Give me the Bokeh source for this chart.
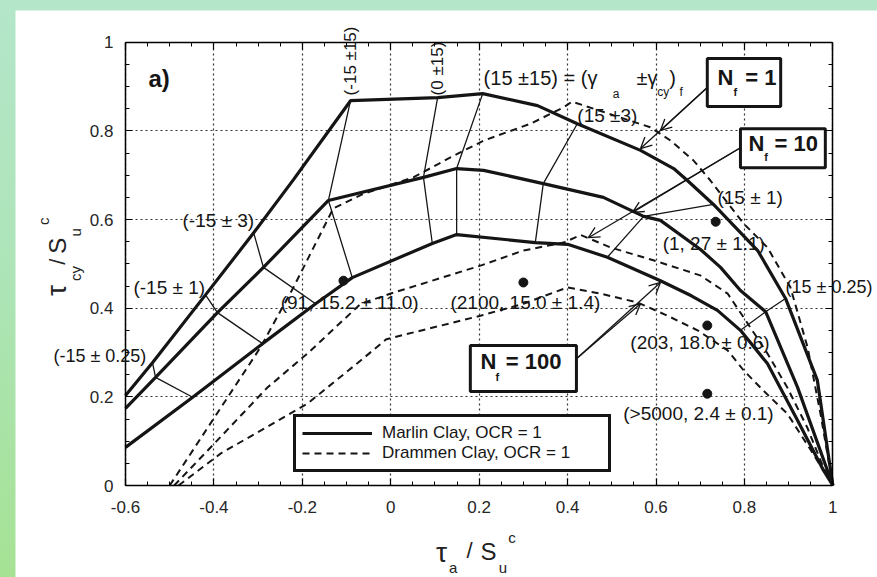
import math
from bokeh.plotting import figure
from bokeh.models import (LinearAxis, FixedTicker, Label, Arrow, OpenHead,
                          Legend, LegendItem, Range1d)
from bokeh.embed import file_html
from bokeh.resources import INLINE

# ---------------- data ----------------
xticks = [-0.6, -0.4, -0.2, 0.0, 0.2, 0.4, 0.6, 0.8, 1.0]
xtick_labels = ["-0.6", "-0.4", "-0.2", "0", "0.2", "0.4", "0.6", "0.8", "1"]
yticks = [0.0, 0.2, 0.4, 0.6, 0.8, 1.0]
ytick_labels = ["0", "0.2", "0.4", "0.6", "0.8", "1"]
xminor = [round(-0.6 + 0.05 * i, 2) for i in range(33)]
yminor = [round(0.05 * i, 2) for i in range(21)]

# Marlin Clay (solid, thick)
marlin_nf1_x = [-0.6, -0.539, -0.419, -0.31, -0.22, -0.091, 0.106, 0.208, 0.332, 0.422,
                0.565, 0.64, 0.671, 0.73, 0.83, 0.893, 0.965, 1.0]
marlin_nf1_y = [0.203, 0.277, 0.43, 0.57, 0.69, 0.868, 0.875, 0.884, 0.857, 0.816,
                0.756, 0.715, 0.688, 0.634, 0.53, 0.422, 0.237, 0.0]
marlin_nf10_x = [-0.6, -0.532, -0.392, -0.288, -0.141, 0.074, 0.149, 0.21, 0.345, 0.481,
                 0.572, 0.61, 0.70, 0.746, 0.791, 0.848, 0.92, 1.0]
marlin_nf10_y = [0.174, 0.244, 0.39, 0.492, 0.643, 0.695, 0.715, 0.711, 0.681, 0.65,
                 0.607, 0.598, 0.533, 0.492, 0.44, 0.392, 0.222, 0.0]
marlin_nf100_x = [-0.6, -0.448, -0.29, -0.17, -0.087, 0.094, 0.149, 0.327, 0.4, 0.49,
                  0.61, 0.68, 0.739, 0.791, 0.852, 0.92, 0.979, 1.0]
marlin_nf100_y = [0.086, 0.199, 0.32, 0.41, 0.469, 0.546, 0.566, 0.548, 0.544, 0.515,
                  0.462, 0.428, 0.395, 0.35, 0.275, 0.147, 0.034, 0.0]

# constant (gamma_a +- gamma_cy)_f lines, points on Nf=1, 10, 100
gamma_x = [[-0.539, -0.532, -0.448], [-0.419, -0.392, -0.29], [-0.31, -0.288, -0.17],
           [-0.091, -0.141, -0.087], [0.106, 0.074, 0.094], [0.208, 0.149, 0.149],
           [0.422, 0.345, 0.327], [0.73, 0.572, 0.49], [0.893, 0.848, 0.791]]
gamma_y = [[0.277, 0.244, 0.199], [0.43, 0.39, 0.32], [0.57, 0.492, 0.41],
           [0.868, 0.643, 0.469], [0.875, 0.695, 0.546], [0.884, 0.715, 0.566],
           [0.816, 0.681, 0.548], [0.634, 0.607, 0.515], [0.422, 0.392, 0.35]]

# Drammen Clay (dashed)
drammen_nf1_x = [-0.5, -0.295, -0.22, -0.13, -0.062, 0.051, 0.135, 0.21, 0.316, 0.391, 0.41,
                 0.587, 0.633, 0.685, 0.723, 0.798, 0.852, 0.904, 0.943, 0.972, 1.0]
drammen_nf1_y = [0.0, 0.311, 0.447, 0.625, 0.658, 0.695, 0.74, 0.778, 0.816, 0.853, 0.866,
                 0.808, 0.778, 0.733, 0.688, 0.591, 0.537, 0.447, 0.311, 0.162, 0.0]
drammen_nf10_x = [-0.49, -0.414, -0.279, -0.188, -0.068, 0.0, 0.203, 0.3, 0.391, 0.43,
                  0.497, 0.594, 0.70, 0.762, 0.807, 0.852, 0.897, 0.942, 0.979, 1.0]
drammen_nf10_y = [0.0, 0.079, 0.221, 0.298, 0.41, 0.433, 0.496, 0.53, 0.548, 0.565,
                  0.537, 0.508, 0.474, 0.433, 0.366, 0.298, 0.221, 0.131, 0.04, 0.0]
drammen_nf100_x = [-0.48, -0.385, -0.188, -0.068, -0.01, 0.203, 0.3, 0.4, 0.474, 0.558,
                   0.626, 0.694, 0.762, 0.798, 0.843, 0.897, 0.95, 1.0]
drammen_nf100_y = [0.0, 0.072, 0.185, 0.282, 0.33, 0.383, 0.41, 0.447, 0.433, 0.413,
                   0.383, 0.35, 0.305, 0.26, 0.214, 0.162, 0.08, 0.0]

# test points
dot_x = [-0.107, 0.30, 0.735, 0.716, 0.716]
dot_y = [0.462, 0.458, 0.595, 0.361, 0.207]

# annotations (text, x, y, size)
annot_text = ["(-15 ± 3)", "(-15 ± 1)", "(-15 ± 0.25)", "(91, 15.2 ± 11.0)",
              "(2100, 15.0 ± 1.4)", "(15 ±3)", "(15 ± 1)", "(1, 27 ± 1.1)",
              "(15 ± 0.25)", "(203, 18.0 ± 0.6)", "(>5000, 2.4 ± 0.1)"]
annot_x = [-0.471, -0.582, -0.763, -0.249, 0.135, 0.422, 0.739, 0.615, 0.893, 0.542, 0.526]
annot_y = [0.598, 0.447, 0.293, 0.413, 0.413, 0.835, 0.65, 0.546, 0.447, 0.323, 0.162]
annot_size = [19, 19, 18, 19, 19, 19, 19, 19, 18, 19, 19]

rot_text = ["(-15 ±15)", "(0 ±15)"]
rot_x = [-0.091, 0.106]
rot_y = [0.880, 0.880]

# header formula pieces: (text, x, y, size)
formula_text = ["(15 ±15) = (γ", "a", "±γ", "cy", ")", "f"]
formula_x = [0.21, 0.502, 0.556, 0.603, 0.63, 0.653]
formula_y = [0.92, 0.884, 0.92, 0.887, 0.92, 0.887]
formula_size = [20, 12, 20, 12, 20, 12]

# N_f boxes
box_num = ["1", "10", "100"]
box_left = [0.716, 0.791, 0.18]
box_right = [0.882, 0.983, 0.42]
box_bottom = [0.855, 0.717, 0.212]
box_top = [0.963, 0.805, 0.316]
box_n_x = [0.739, 0.809, 0.203]
box_f_x = [0.775, 0.845, 0.237]
box_eq_x = [0.802, 0.868, 0.26]
box_mid_y = [0.92, 0.771, 0.28]
box_sub_y = [0.887, 0.74, 0.244]

# arrows from boxes
arrow_x0 = [0.716, 0.716, 0.791, 0.791, 0.42, 0.42]
arrow_y0 = [0.898, 0.898, 0.762, 0.762, 0.286, 0.286]
arrow_x1 = [0.61, 0.565, 0.547, 0.447, 0.565, 0.61]
arrow_y1 = [0.801, 0.760, 0.616, 0.559, 0.41, 0.458]

# axis titles pieces
xlab_text = ["τ", "a", "/", "S", "u", "c"]
xlab_x = [0.115, 0.141, 0.178, 0.221, 0.254, 0.274]
xlab_y = [-0.151, -0.185, -0.147, -0.149, -0.185, -0.118]
lab_size = [28, 15, 22, 24, 15, 15]
ylab_text = ["τ", "cy", "/", "S", "u", "c"]
ylab_x = [-0.756, -0.713, -0.754, -0.754, -0.713, -0.785]
ylab_y = [0.44, 0.478, 0.505, 0.541, 0.571, 0.596]

FONT = "Liberation Sans"
INK = "#151515"

# ---------------- figure ----------------
# the frame fills the whole canvas; the plot box (-0.6..1, 0..1) is drawn by
# axes fixed at its edges so that texts around it are not clipped
p = figure(width=862, height=567,
           x_range=Range1d(-0.8488, 1.1010), y_range=Range1d(-0.2075, 1.0715),
           output_backend="svg", toolbar_location=None,
           min_border_left=0, min_border_right=0, min_border_top=0, min_border_bottom=0)
p.background_fill_color = "white"
p.border_fill_color = "white"
p.outline_line_color = None

xt = FixedTicker(ticks=xticks, minor_ticks=xminor)
yt = FixedTicker(ticks=yticks, minor_ticks=yminor)


def style_axis(ax, ticker, overrides, show_labels, loc, bounds):
    ax.ticker = ticker
    ax.fixed_location = loc
    ax.bounds = bounds
    ax.axis_line_color = "black"
    ax.axis_line_width = 1.5
    ax.major_tick_in = 7
    ax.major_tick_out = 0
    ax.minor_tick_in = 4
    ax.minor_tick_out = 0
    ax.major_tick_line_color = "black"
    ax.minor_tick_line_color = "black"
    ax.major_tick_line_width = 1.2
    ax.minor_tick_line_width = 1
    if show_labels:
        ax.major_label_overrides = overrides
        ax.major_label_text_font = FONT
        ax.major_label_text_font_size = "17px"
        ax.major_label_text_color = "#262626"
    else:
        ax.major_label_text_color = None
        ax.major_label_standoff = 0


xover = {t: s for t, s in zip(xticks, xtick_labels)}
yover = {t: s for t, s in zip(yticks, ytick_labels)}
style_axis(p.xaxis[0], xt, xover, True, 0.0, (-0.6, 1.0))
style_axis(p.yaxis[0], yt, yover, True, -0.6, (0.0, 1.0))
p.xaxis[0].major_label_standoff = 15
p.yaxis[0].major_label_standoff = 12

top_ax = LinearAxis()
right_ax = LinearAxis()
style_axis(top_ax, xt, None, False, 1.0, (-0.6, 1.0))
style_axis(right_ax, yt, None, False, 1.0, (0.0, 1.0))
p.add_layout(top_ax, "above")
p.add_layout(right_ax, "right")

p.xgrid.ticker = xt
p.ygrid.ticker = yt
p.xgrid[0].bounds = (-0.6, 1.0)
p.ygrid[0].bounds = (0.0, 1.0)
try:
    p.xgrid[0].cross_bounds = (0.0, 1.0)
    p.ygrid[0].cross_bounds = (-0.6, 1.0)
except AttributeError:
    pass
for g in (p.xgrid[0], p.ygrid[0]):
    g.grid_line_color = "#333333"
    g.grid_line_dash = "2 3"
    g.grid_line_width = 1.2

# constant-gamma thin lines
p.multi_line(gamma_x, gamma_y, line_color=INK, line_width=1.3)

# Drammen dashed
rd = []
for xs, ys in ((drammen_nf1_x, drammen_nf1_y), (drammen_nf10_x, drammen_nf10_y),
               (drammen_nf100_x, drammen_nf100_y)):
    rd.append(p.line(xs, ys, line_color=INK, line_width=2, line_dash="7 5"))

# Marlin solid
rm = []
for xs, ys in ((marlin_nf1_x, marlin_nf1_y), (marlin_nf10_x, marlin_nf10_y),
               (marlin_nf100_x, marlin_nf100_y)):
    rm.append(p.line(xs, ys, line_color=INK, line_width=3.2))

p.scatter(dot_x, dot_y, size=9, color=INK)

# N_f boxes
p.quad(left=box_left, right=box_right, bottom=box_bottom, top=box_top,
       fill_color="white", line_color=INK, line_width=3)

for i in range(3):
    p.add_layout(Label(x=box_n_x[i], y=box_mid_y[i], text="N", text_font=FONT,
                       text_font_size="22px", text_font_style="bold", text_color=INK,
                       text_align="left", text_baseline="middle"))
    p.add_layout(Label(x=box_f_x[i], y=box_sub_y[i], text="f", text_font=FONT,
                       text_font_size="11px", text_font_style="bold", text_color=INK,
                       text_align="left", text_baseline="middle"))
    p.add_layout(Label(x=box_eq_x[i], y=box_mid_y[i], text="= " + box_num[i], text_font=FONT,
                       text_font_size="22px", text_font_style="bold", text_color=INK,
                       text_align="left", text_baseline="middle"))

for i in range(len(arrow_x0)):
    p.add_layout(Arrow(end=OpenHead(size=11, line_width=1.3, line_color=INK),
                       x_start=arrow_x0[i], y_start=arrow_y0[i],
                       x_end=arrow_x1[i], y_end=arrow_y1[i],
                       line_color=INK, line_width=1.3))

for t, x, y, s in zip(annot_text, annot_x, annot_y, annot_size):
    p.add_layout(Label(x=x, y=y, text=t, text_font=FONT, text_font_size=f"{s}px",
                       text_color=INK, text_align="left", text_baseline="middle"))

for t, x, y in zip(rot_text, rot_x, rot_y):
    p.add_layout(Label(x=x, y=y, text=t, angle=math.pi / 2, text_font=FONT,
                       text_font_size="17px", text_color=INK,
                       text_align="left", text_baseline="middle"))

for t, x, y, s in zip(formula_text, formula_x, formula_y, formula_size):
    p.add_layout(Label(x=x, y=y, text=t, text_font=FONT, text_font_size=f"{s}px",
                       text_color=INK, text_align="left", text_baseline="middle"))

p.add_layout(Label(x=-0.548, y=0.918, text="a)", text_font=FONT, text_font_size="24px",
                   text_font_style="bold", text_color=INK,
                   text_align="left", text_baseline="middle"))

for t, x, y, s in zip(xlab_text, xlab_x, xlab_y, lab_size):
    p.add_layout(Label(x=x, y=y, text=t, text_font=FONT, text_font_size=f"{s}px",
                       text_color="#222222", text_align="center", text_baseline="middle"))
for t, x, y, s in zip(ylab_text, ylab_x, ylab_y, lab_size):
    p.add_layout(Label(x=x, y=y, text=t, angle=math.pi / 2, text_font=FONT,
                       text_font_size=f"{s}px", text_color="#222222",
                       text_align="center", text_baseline="middle"))

legend = Legend(items=[LegendItem(label="Marlin Clay, OCR = 1", renderers=[rm[0]]),
                       LegendItem(label="Drammen Clay, OCR = 1", renderers=[rd[0]])],
                location=(278, 105))
legend.border_line_color = INK
legend.border_line_width = 3
legend.border_line_alpha = 1.0
legend.background_fill_color = "white"
legend.background_fill_alpha = 1
legend.padding = 6
legend.spacing = 0
legend.margin = 0
legend.glyph_width = 70
legend.glyph_height = 18
legend.label_height = 18
legend.label_standoff = 10
legend.label_width = 220
legend.label_text_font = FONT
legend.label_text_font_size = "17px"
legend.label_text_color = INK
p.add_layout(legend)

html = file_html(p, INLINE)
css = ("<style>html,body{overflow:hidden;}"
       "html{background:linear-gradient(180deg,#b4e6ca 0%,#ade4b6 50%,#a6e294 100%);}"
       "body{margin:8px 0 0 8px;padding:2px 0 0 7px;}</style></head>")
html = html.replace("</head>", css, 1)
open("out.html", "w").write(html)
